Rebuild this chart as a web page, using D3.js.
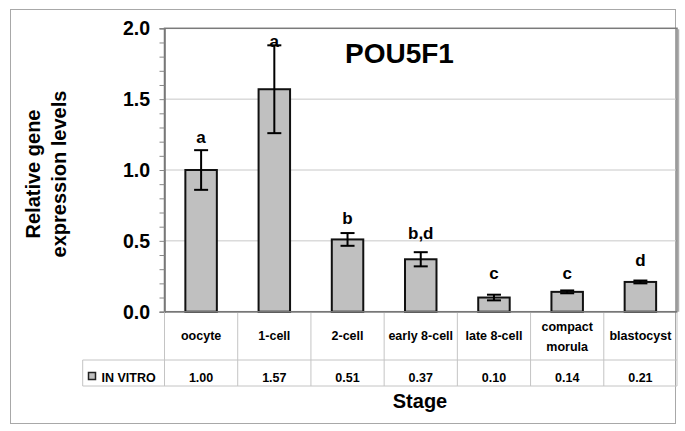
<!DOCTYPE html>
<html><head><meta charset="utf-8">
<script src="https://cdn.jsdelivr.net/npm/d3@7/dist/d3.min.js"></script>
<style>body{margin:0;background:#fff}svg{display:block;font-family:"Liberation Sans",Arial,sans-serif;font-weight:bold}</style>
</head><body>
<script>
const stages = ["oocyte","1-cell","2-cell","early 8-cell","late 8-cell","compact morula","blastocyst"];
const values = [1.00,1.57,0.51,0.37,0.10,0.14,0.21];
const errors = [0.14,0.31,0.045,0.05,0.02,0.01,0.01];
const letters = ["a","a","b","b,d","c","c","d"];
const letterLevel = [1.19,1.87,0.62,0.51,0.23,0.23,0.32];
const yTicks = [0,0.5,1.0,1.5,2.0];
const seriesName = "IN VITRO";
const chartTitle = "POU5F1";

const W=685,H=431;
const svg=d3.select("body").append("svg").attr("width",W).attr("height",H);
const L=164.5,R=677,T=28.3,B=311.7;
const x=d3.scaleBand().domain(stages).range([L,R]).paddingInner(0).paddingOuter(0);
const y=d3.scaleLinear().domain([0,2]).range([B,T]);
const bw=x.bandwidth()*0.43;

// outer border
svg.append("rect").attr("x",10.5).attr("y",9.5).attr("width",665).attr("height",414)
  .attr("fill","none").attr("stroke","#a8a8a8").attr("stroke-width",1);

// gridlines
svg.append("g").selectAll("line").data(yTicks.filter(d=>d>0&&d<2)).join("line")
  .attr("x1",L).attr("x2",R).attr("y1",d=>y(d)).attr("y2",d=>y(d))
  .attr("stroke","#c8c8c8").attr("stroke-width",1);

// plot border
svg.append("rect").attr("x",L).attr("y",T).attr("width",R-L).attr("height",B-T)
  .attr("fill","none").attr("stroke","#7a7a7a").attr("stroke-width",1.5);
svg.append("line").attr("x1",R+1.5).attr("x2",R+1.5).attr("y1",T+1).attr("y2",B)
  .attr("stroke","#b0b0b0").attr("stroke-width",1.5);

// y axis
const yAxis=d3.axisLeft(y).tickValues(d3.range(0,2.0001,0.1)).tickSize(5).tickFormat("");
const ga=svg.append("g").attr("transform",`translate(${L},0)`).call(yAxis);
ga.select(".domain").attr("stroke","#777").attr("stroke-width",1.5);
ga.selectAll(".tick line").attr("stroke","#888");
svg.append("g").selectAll("text").data(yTicks).join("text")
  .attr("x",150).attr("y",d=>y(d)).attr("dy","0.36em").attr("text-anchor","end")
  .attr("font-size",19.5).text(d=>d.toFixed(1));

// y title
const yt=svg.append("text").attr("transform","translate(0,174) rotate(-90)")
  .attr("text-anchor","middle").attr("font-size",20);
yt.append("tspan").attr("x",0).attr("y",40).text("Relative gene");
yt.append("tspan").attr("x",0).attr("y",66).text("expression levels");

// title
svg.append("text").attr("x",345).attr("y",63).attr("font-size",28).text(chartTitle);

// bars
const idx=d3.range(stages.length);
svg.append("g").selectAll("rect").data(idx).join("rect")
  .attr("x",i=>x(stages[i])+x.bandwidth()/2-bw/2).attr("width",bw)
  .attr("y",i=>y(values[i])).attr("height",i=>y(0)-y(values[i]))
  .attr("fill","#c0c0c0").attr("stroke","#111").attr("stroke-width",2);

// error bars
const eg=svg.append("g").attr("stroke","#000").attr("stroke-width",2);
idx.forEach(i=>{
  const cx=x(stages[i])+x.bandwidth()/2, lo=values[i]-errors[i], hi=values[i]+errors[i];
  eg.append("line").attr("x1",cx).attr("x2",cx).attr("y1",y(lo)).attr("y2",y(hi));
  eg.append("line").attr("x1",cx-7).attr("x2",cx+7).attr("y1",y(lo)).attr("y2",y(lo));
  eg.append("line").attr("x1",cx-7).attr("x2",cx+7).attr("y1",y(hi)).attr("y2",y(hi));
});

// significance letters
svg.append("g").selectAll("text").data(idx).join("text")
  .attr("x",i=>x(stages[i])+x.bandwidth()/2).attr("y",i=>y(letterLevel[i]))
  .attr("text-anchor","middle").attr("font-size",17).text(i=>letters[i]);

// data table
const tg=svg.append("g").attr("stroke","#c4c4c4").attr("stroke-width",1);
const rowMid=360, rowBot=386, legL=82.7;
const bounds=stages.map(s=>x(s)).concat([R]);
bounds.forEach(b=>tg.append("line").attr("x1",b).attr("x2",b).attr("y1",B).attr("y2",rowBot));
tg.append("line").attr("x1",legL).attr("x2",legL).attr("y1",rowMid).attr("y2",rowBot);
tg.append("line").attr("x1",legL).attr("x2",R).attr("y1",rowMid).attr("y2",rowMid);
tg.append("line").attr("x1",legL).attr("x2",R).attr("y1",rowBot).attr("y2",rowBot);
svg.append("line").attr("x1",L).attr("x2",R).attr("y1",B).attr("y2",B).attr("stroke","#777").attr("stroke-width",1.5);

const cat=svg.append("g").attr("font-size",12.5).attr("text-anchor","middle");
stages.forEach(s=>{
  const cx=x(s)+x.bandwidth()/2;
  const words=s==="compact morula"?["compact","morula"]:[s];
  const t=cat.append("text").attr("x",cx);
  if(words.length===1){t.attr("y",340).text(s);}
  else{words.forEach((w,k)=>t.append("tspan").attr("x",cx).attr("y",331+k*20).text(w));}
});
svg.append("g").attr("font-size",12.5).attr("text-anchor","middle").selectAll("text").data(idx).join("text")
  .attr("x",i=>x(stages[i])+x.bandwidth()/2).attr("y",381.5).text(i=>values[i].toFixed(2));

// legend key
svg.append("rect").attr("x",88.5).attr("y",372.5).attr("width",7).attr("height",7)
  .attr("fill","#c0c0c0").attr("stroke","#222").attr("stroke-width",1.5);
svg.append("text").attr("x",101.5).attr("y",382).attr("font-size",12.5).text(seriesName);

// x title
svg.append("text").attr("x",420).attr("y",408).attr("text-anchor","middle").attr("font-size",20).text("Stage");
</script>
</body></html>
